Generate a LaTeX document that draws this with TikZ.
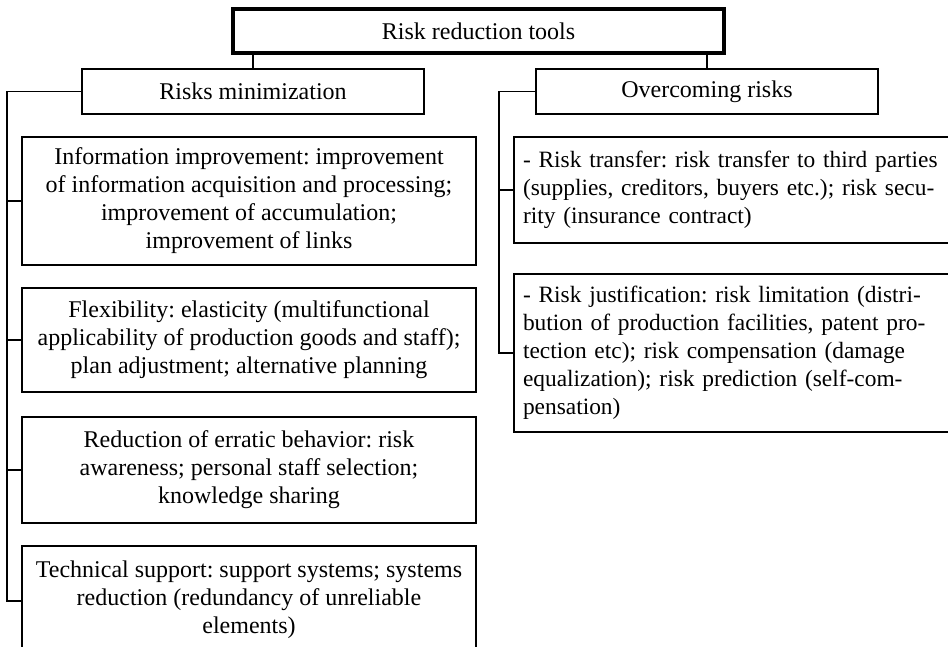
\documentclass[tikz,border=0pt]{standalone}
\usepackage{fontspec}
\setmainfont{Liberation Serif}
\usetikzlibrary{positioning}

\begin{document}
\frenchspacing
\begin{tikzpicture}[x=1pt, y=-1pt,
  every node/.style={font=\fontsize{24}{28}\selectfont, inner sep=0pt},
  box/.style={rectangle, draw, line width=2pt, align=center},
  headbox/.style={box, minimum width=342pt, minimum height=45pt},
  leftbox/.style={box, minimum width=454pt},
  rightbox/.style={box, align=left, inner xsep=9pt, text width=428pt, font=\fontsize{23.4}{28}\selectfont},
  link/.style={line width=1.5pt},
]
\useasboundingbox (0,0) rectangle (948,647);
\clip (0,0) rectangle (948,647);

\node[box, line width=3.5pt, minimum width=491pt, minimum height=44pt] (tools) at (478.5,31) {Risk reduction tools};

\node[headbox] (minim) at (253,91.5) {Risks minimization};
\node[headbox] (overc) at (707,91.5) {Overcoming risks};

\node[leftbox, minimum height=128pt] (info) at (249,201) {Information improvement: improvement\\of information acquisition and processing;\\improvement of accumulation;\\improvement of links};
\node[leftbox, minimum height=104pt] (flex) at (249,340) {Flexibility: elasticity (multifunctional\\applicability of production goods and staff);\\plan adjustment; alternative planning};
\node[leftbox, minimum height=106pt] (errat) at (249,470) {Reduction of erratic behavior: risk\\awareness; personal staff selection;\\knowledge sharing};
\node[leftbox, minimum height=108pt] (tech) at (249,600) {Technical support: support systems; systems\\reduction (redundancy of unreliable\\elements)};

\node[rightbox, minimum height=106pt] (transf) at (737,190) {- Risk transfer: risk transfer to third parties\\(supplies, creditors, buyers etc.); risk secu-\\rity (insurance contract)};
\node[rightbox, minimum height=158pt] (justif) at (737,353) {- Risk justification: risk limitation (distri-\\bution of production facilities, patent pro-\\tection etc); risk compensation (damage\\equalization); risk prediction (self-com-\\pensation)};

\coordinate (lsp) at (7,91.5);
\coordinate (rsp) at (499,91.5);

\draw[link] (tools.south -| minim.north) -- (minim.north);
\draw[link] (tools.south -| overc.north) -- (overc.north);

\draw[link] (minim.west) -- (lsp) |- ([yshift=-1pt]tech.west);
\foreach \b in {info, flex, errat}
  \draw[link] (\b.west) -- (\b.west -| lsp);

\draw[link] (overc.west) -- (rsp) |- (justif.west);
\draw[link] (transf.west) -- (transf.west -| rsp);

\end{tikzpicture}
\end{document}
